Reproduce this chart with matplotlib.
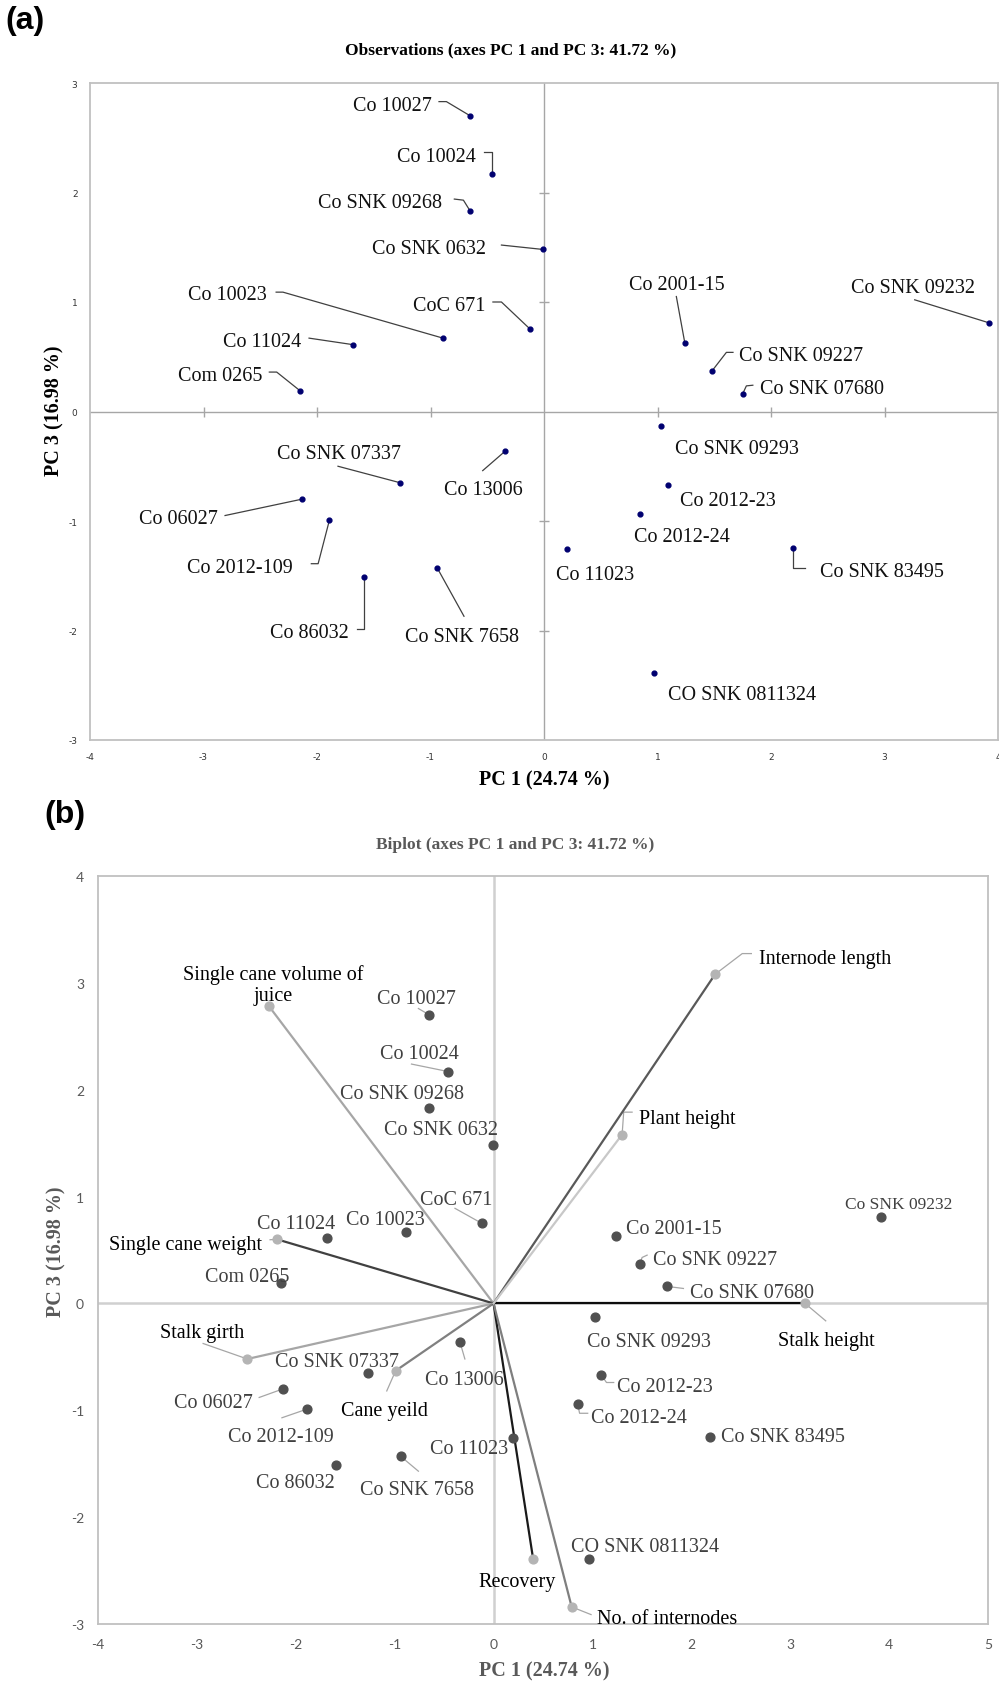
import matplotlib.pyplot as plt

plt.rcParams["axes.unicode_minus"] = False

# PCA scores of the sugarcane varieties (PC 1, PC 3)
varieties = ["Co 10027", "Co 10024", "Co SNK 09268", "Co SNK 0632", "Co 10023", "CoC 671",
             "Co 11024", "Com 0265", "Co SNK 07337", "Co 13006", "Co 06027", "Co 2012-109",
             "Co 86032", "Co SNK 7658", "Co 2001-15", "Co SNK 09232", "Co SNK 09227",
             "Co SNK 07680", "Co SNK 09293", "Co 2012-23", "Co 2012-24", "Co 11023",
             "Co SNK 83495", "CO SNK 0811324"]
pc1 = [-0.65, -0.46, -0.65, -0.01, -0.89, -0.12, -1.68, -2.15, -1.27, -0.34, -2.13, -1.89,
       -1.59, -0.94, 1.24, 3.92, 1.48, 1.75, 1.03, 1.09, 0.85, 0.20, 2.19, 0.97]
pc3 = [2.70, 2.17, 1.83, 1.48, 0.67, 0.75, 0.61, 0.19, -0.65, -0.36, -0.80, -0.99,
       -1.51, -1.43, 0.63, 0.81, 0.37, 0.16, -0.13, -0.67, -0.94, -1.26, -1.25, -2.39]

# trait loadings (scaled for the biplot)
traits = ["Single cane volume of\njuice", "Single cane weight", "Stalk girth", "Cane yeild",
          "Recovery", "No. of internodes", "Stalk height", "Internode length", "Plant height"]
trait_pc1 = [-2.27, -2.19, -2.49, -0.99, 0.40, 0.79, 3.15, 2.24, 1.30]
trait_pc3 = [2.78, 0.60, -0.52, -0.63, -2.39, -2.84, 0.00, 3.08, 1.58]
trait_colors = ["#a6a6a6", "#404040", "#a6a6a6", "#808080", "#1a1a1a",
                "#7f7f7f", "#0d0d0d", "#595959", "#c8c8c8"]

# label placement: text x, text y, ha, leader path (toward the point)
lab_a = {
    "Co 10027": (-0.99, 2.82, "right", [(-0.925, 2.83), (-0.86, 2.83)]),
    "Co 10024": (-0.60, 2.35, "right", [(-0.53, 2.37), (-0.46, 2.37)]),
    "Co SNK 09268": (-0.90, 1.93, "right", [(-0.79, 1.94), (-0.71, 1.93)]),
    "Co SNK 0632": (-0.51, 1.51, "right", [(-0.375, 1.52)]),
    "Co 10023": (-2.44, 1.09, "right", [(-2.36, 1.09), (-2.30, 1.09)]),
    "CoC 671": (-0.52, 0.99, "right", [(-0.45, 1.0), (-0.375, 1.0)]),
    "Co 11024": (-2.14, 0.66, "right", [(-2.07, 0.67)]),
    "Com 0265": (-2.48, 0.35, "right", [(-2.42, 0.36), (-2.355, 0.36)]),
    "Co SNK 07337": (-1.81, -0.36, "center", [(-1.815, -0.50)]),
    "Co 13006": (-0.53, -0.69, "center", [(-0.54, -0.54)]),
    "Co 06027": (-2.87, -0.955, "right", [(-2.81, -0.95)]),
    "Co 2012-109": (-2.21, -1.40, "right", [(-2.05, -1.39), (-1.99, -1.39)]),
    "Co 86032": (-1.72, -2.0, "right", [(-1.65, -1.99), (-1.59, -1.99)]),
    "Co SNK 7658": (-0.72, -2.03, "center", [(-0.705, -1.87)]),
    "Co 2001-15": (1.17, 1.18, "center", [(1.166, 1.05)]),
    "Co SNK 09232": (3.255, 1.156, "center", [(3.266, 1.02)]),
    "Co SNK 09227": (1.718, 0.533, "left", [(1.665, 0.54), (1.607, 0.54)]),
    "Co SNK 07680": (1.90, 0.234, "left", [(1.84, 0.24), (1.783, 0.234)]),
    "Co SNK 09293": (1.152, -0.315, "left", []),
    "Co 2012-23": (1.196, -0.79, "left", []),
    "Co 2012-24": (0.79, -1.123, "left", []),
    "Co 11023": (0.109, -1.464, "left", []),
    "Co SNK 83495": (2.435, -1.436, "left", [(2.297, -1.427), (2.19, -1.427)]),
    "CO SNK 0811324": (1.093, -2.562, "left", []),
}

lab_b = {
    "Co 10027": (-0.78, 2.88, "center", [(-0.76, 2.76)]),
    "Co 10024": (-0.75, 2.36, "center", [(-0.83, 2.24)]),
    "Co SNK 09268": (-0.93, 1.99, "center", []),
    "Co SNK 0632": (-0.53, 1.65, "center", []),
    "CoC 671": (-0.38, 1.00, "center", [(-0.39, 0.89)]),
    "Co 10023": (-1.09, 0.81, "center", []),
    "Co 11024": (-2.0, 0.77, "center", []),
    "Com 0265": (-2.49, 0.28, "center", []),
    "Co SNK 07337": (-1.58, -0.52, "center", []),
    "Co 13006": (-0.30, -0.69, "center", [(-0.29, -0.52)]),
    "Co 06027": (-2.43, -0.90, "right", [(-2.37, -0.88)]),
    "Co 2012-109": (-2.155, -1.22, "center", [(-2.14, -1.07)]),
    "Co 86032": (-2.0, -1.65, "center", []),
    "Co SNK 7658": (-0.77, -1.72, "center", [(-0.76, -1.57)]),
    "Co 11023": (0.15, -1.33, "right", []),
    "Co 2001-15": (1.344, 0.727, "left", []),
    "Co SNK 09232": (4.10, 0.95, "center", [], 12.5),
    "Co SNK 09227": (1.614, 0.431, "left", [(1.553, 0.452), (1.502, 0.43)]),
    "Co SNK 07680": (1.985, 0.125, "left", [(1.92, 0.14)]),
    "Co SNK 09293": (1.575, -0.335, "center", []),
    "Co 2012-23": (1.25, -0.75, "left", [(1.215, -0.74), (1.142, -0.74)]),
    "Co 2012-24": (0.986, -1.044, "left", [(0.952, -1.028), (0.87, -1.028)]),
    "Co SNK 83495": (2.296, -1.218, "left", []),
    "CO SNK 0811324": (1.533, -2.256, "center", []),
}

lab_traits = {
    "Single cane volume of\njuice": (-2.23, 3.02, "center", []),
    "Single cane weight": (-2.345, 0.572, "right", [(-2.26, 0.596)]),
    "Stalk girth": (-2.95, -0.25, "center", [(-2.937, -0.375)]),
    "Cane yeild": (-1.10, -0.975, "center", [(-1.08, -0.819)]),
    "Recovery": (0.236, -2.58, "center", []),
    "No. of internodes": (1.047, -2.928, "left", [(0.986, -2.912)]),
    "Stalk height": (3.36, -0.32, "center", [(3.359, -0.163)]),
    "Internode length": (2.684, 3.248, "left", [(2.607, 3.274), (2.515, 3.274)]),
    "Plant height": (1.468, 1.758, "left", [(1.401, 1.79), (1.316, 1.79)]),
}

SERIF = "Liberation Serif"


def put_labels(ax, layout, names, xs, ys, color, leader_color, size=14.5):
    for name, x, y in zip(names, xs, ys):
        item = layout[name]
        tx, ty, ha, path = item[:4]
        fs = item[4] if len(item) > 4 else size
        ax.text(tx, ty, name, ha=ha, va="center_baseline", fontsize=fs, color=color,
                family=SERIF, multialignment="center", zorder=5)
        if path:
            lx = [p[0] for p in path] + [x]
            ly = [p[1] for p in path] + [y]
            ax.plot(lx, ly, color=leader_color, lw=0.9, zorder=2)


fig = plt.figure(figsize=(9.99, 16.83), dpi=100)
W, H = 999.0, 1683.0

# ---------------- (a) observations ----------------
ax = fig.add_axes([90 / W, 1 - 741 / H, 908 / W, 657 / H])
ax.set_xlim(-4, 4)
ax.set_ylim(-3, 3)
ax.axhline(0, color="#a6a6a6", lw=1, zorder=1)
ax.axvline(0, color="#a6a6a6", lw=1, zorder=1)
xt = [-3, -2, -1, 1, 2, 3]
yt = [-2, -1, 1, 2]
ax.plot(xt, [0] * len(xt), ls="none", marker="|", ms=7, mew=1, color="#a6a6a6")
ax.plot([0] * len(yt), yt, ls="none", marker="_", ms=7, mew=1, color="#a6a6a6")
ax.scatter(pc1, pc3, s=12, color="#000070", zorder=4)
put_labels(ax, lab_a, varieties, pc1, pc3, "#111111", "#404040")
ax.set_xticks(range(-4, 5))
ax.set_yticks(range(-3, 4))
ax.tick_params(length=0, labelsize=6.5, labelcolor="#333333", pad=9)
for s in ax.spines.values():
    s.set_color("#c0c0c0")
    s.set_linewidth(1.3)

fig.text(511 / W, 1 - 50 / H, "Observations (axes PC 1 and PC 3: 41.72 %)", ha="center",
         va="center", fontsize=12.5, weight="bold", family=SERIF)
fig.text(544 / W, 1 - 780 / H, "PC 1 (24.74 %)", ha="center", va="center",
         fontsize=14.5, weight="bold", family=SERIF)
fig.text(54 / W, 1 - 411 / H, "PC 3 (16.98 %)", ha="center", va="center", rotation=90,
         fontsize=14.5, weight="bold", family=SERIF)
fig.text(5 / W, 1 - 21 / H, "(a)", ha="left", va="center", fontsize=23, weight="bold",
         family="Liberation Sans")

# ---------------- (b) biplot ----------------
bx = fig.add_axes([98 / W, 1 - 1625 / H, 890 / W, 748 / H])
bx.set_xlim(-4, 5)
bx.set_ylim(-3, 4)
bx.axhline(0, color="#d0d0d0", lw=1.8, zorder=1)
bx.axvline(0, color="#d0d0d0", lw=1.8, zorder=1)
for x, y, c in zip(trait_pc1, trait_pc3, trait_colors):
    bx.plot([0, x], [0, y], color=c, lw=1.6, zorder=3)
bx.scatter(trait_pc1, trait_pc3, s=40, color="#b4b4b4", zorder=4)
bx.scatter(pc1, pc3, s=40, color="#505050", zorder=4)
put_labels(bx, lab_b, varieties, pc1, pc3, "#404040", "#a6a6a6")
put_labels(bx, lab_traits, traits, trait_pc1, trait_pc3, "#000000", "#a6a6a6")
bx.set_xticks(range(-4, 6))
bx.set_yticks(range(-3, 5))
bx.tick_params(length=0, labelsize=10, labelcolor="#595959", pad=10)
for lab in bx.get_xticklabels() + bx.get_yticklabels():
    lab.set_family("Lato")
for s in bx.spines.values():
    s.set_color("#c0c0c0")
    s.set_linewidth(1.3)

fig.text(515 / W, 1 - 845 / H, "Biplot (axes PC 1 and PC 3: 41.72 %)", ha="center",
         va="center", fontsize=12.5, weight="bold", color="#595959", family=SERIF)
fig.text(544 / W, 1 - 1671 / H, "PC 1 (24.74 %)", ha="center", va="center",
         fontsize=14.5, weight="bold", color="#595959", family=SERIF)
fig.text(56 / W, 1 - 1252 / H, "PC 3 (16.98 %)", ha="center", va="center", rotation=90,
         fontsize=14.5, weight="bold", color="#595959", family=SERIF)
fig.text(44 / W, 1 - 815 / H, "(b)", ha="left", va="center", fontsize=23, weight="bold",
         family="Liberation Sans")

fig.savefig("out.png", dpi=100)
